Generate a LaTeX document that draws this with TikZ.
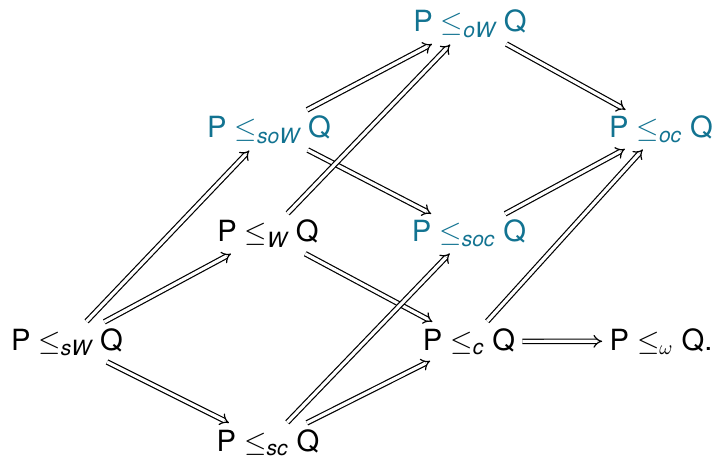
\documentclass[tikz,border=0pt]{standalone}
\usepackage{fontspec}
\setmainfont{TeX Gyre Heros}
\usetikzlibrary{arrows.meta}
\definecolor{tb}{RGB}{18,115,145}
\newcommand{\sbf}[1]{\mbox{\fontsize{10.5}{11}\selectfont\itshape #1}}
\newcommand{\rel}[1]{$\mbox{P}\leq_{#1}\mbox{Q}$}
\begin{document}
\begin{tikzpicture}[x=0.5pt,y=-0.5pt,
  lbl/.style={font=\fontsize{14.6}{16}\selectfont, inner sep=2.5pt, anchor=base},
  blu/.style={lbl, text=tb},
  imp/.style={double, double distance=1.6pt, line width=0.6pt, -{Implies}, shorten <=1pt, shorten >=1pt}]
\useasboundingbox (0,0) rectangle (716,464);
\node[lbl] (sW) at (67,350) {\rel{\sbf{sW}}};
\node[lbl] (sc) at (268,451) {\rel{\sbf{sc}}};
\node[lbl] (W) at (268,242) {\rel{\sbf{W}}};
\node[blu] (soW) at (269,138) {\rel{\sbf{soW}}};
\node[blu] (oW) at (470,32) {\rel{\sbf{oW}}};
\node[blu] (soc) at (469,242) {\rel{\sbf{soc}}};
\node[lbl] (c) at (469,350) {\rel{\sbf{c}}};
\node[blu] (oc) at (661,138) {\rel{\sbf{oc}}};
\node[lbl] (om) at (661,350) {$\mbox{P}\leq_{\omega}\mbox{Q.}$};
\draw[imp] (sW) -- (soW);
\draw[imp] (sW) -- (W);
\draw[imp] (sW) -- (sc);
\draw[imp] (soW) -- (oW);
\draw[imp] (soW) -- (soc);
\draw[imp] (W) -- (oW);
\draw[imp] (W) -- (c);
\draw[imp] (sc) -- (soc);
\draw[imp] (sc) -- (c);
\draw[imp] (oW) -- (oc);
\draw[imp] (soc) -- (oc);
\draw[imp] (c) -- (oc);
\draw[imp] (c) -- (om);
\end{tikzpicture}
\end{document}
